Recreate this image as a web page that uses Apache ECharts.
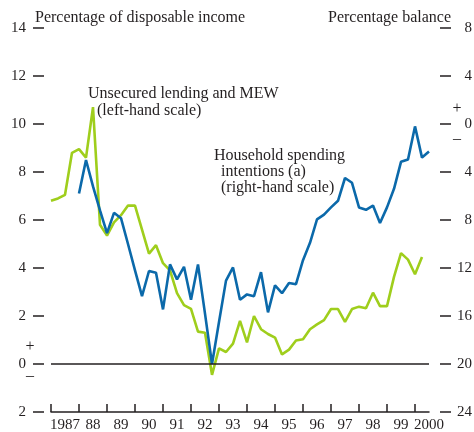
<!DOCTYPE html>
<html>
<head>
<meta charset="utf-8">
<script src="https://cdn.jsdelivr.net/npm/echarts@6/dist/echarts.min.js"></script>
<style>
html,body{margin:0;padding:0;background:#fff;}
#chart{width:474px;height:432px;}
</style>
</head>
<body>
<div id="chart"></div>
<script>
// ---- data (quarterly) ----
const lendingStart = 1987;   // first quarter of unsecured lending & MEW series
const intentionsStart = 1988; // first quarter of spending intentions series
// Unsecured lending and MEW, % of disposable income (left-hand scale), 1987Q1-2000Q2
const lendingMEW = [6.8, 6.9, 7.05, 8.8, 8.95, 8.6, 10.7, 5.8, 5.35, 5.9, 6.2, 6.6, 6.6, 5.6,
  4.6, 4.95, 4.2, 3.9, 2.95, 2.45, 2.3, 1.35, 1.3, -0.45, 0.65, 0.5, 0.85, 1.8, 0.9, 2.0,
  1.45, 1.25, 1.1, 0.4, 0.6, 0.98, 1.03, 1.45, 1.65, 1.83, 2.29, 2.29, 1.76, 2.29, 2.39,
  2.32, 2.97, 2.41, 2.41, 3.63, 4.62, 4.35, 3.74, 4.46];
// Household spending intentions, percentage balance (right-hand scale), 1988Q1-2000Q3
const spendingIntentions = [-5.8, -3.0, -5.2, -7.2, -9.1, -7.4, -7.85, -10.0, -12.2, -14.35,
  -12.25, -12.4, -15.45, -11.7, -12.95, -11.9, -14.65, -11.7, -15.8, -20.0, -16.5, -13.05,
  -11.95, -14.65, -14.2, -14.35, -12.35, -15.7, -13.45, -14.1, -13.25, -13.35, -11.35, -9.9,
  -7.95, -7.55, -6.95, -6.4, -4.5, -4.9, -6.95, -7.15, -6.8, -8.25, -6.95, -5.4, -3.15,
  -2.95, -0.2, -2.8, -2.3];
// x-axis
const yearTicks = [1987, 1988, 1989, 1990, 1991, 1992, 1993, 1994, 1995, 1996, 1997, 1998, 1999, 2000];
const yearLabels = ['1987', '88', '89', '90', '91', '92', '93', '94', '95', '96', '97', '98', '99', '2000'];
// y-axes
const leftMin = -2, leftMax = 14, leftStep = 2;
const rightMin = -24, rightMax = 8, rightStep = 4;
const leftTitle = 'Percentage of disposable income';
const rightTitle = 'Percentage balance';
const lendingName = ['Unsecured lending and MEW', '(left-hand scale)'];
const intentionsName = ['Household spending', 'intentions (a)', '(right-hand scale)'];

// ---- chart ----
const FONT = '"Liberation Serif", "DejaVu Serif", serif';
const INK = '#231f20';
const GREEN = '#9fce1c';
const BLUE = '#0b69aa';

const lendingData = lendingMEW.map((v, i) => [lendingStart + i / 4, v]);
const intentionsData = spendingIntentions.map((v, i) => [intentionsStart + i / 4, v]);
const labelPos = yearTicks.map(y => y + 0.5);

const chart = echarts.init(document.getElementById('chart'), null, {renderer: 'canvas'});
const labelStyle = {fontFamily: FONT, fontSize: 15, color: INK};

chart.setOption({
  animation: false,
  backgroundColor: '#fff',
  grid: {left: 51, right: 45, top: 28, bottom: 20, containLabel: false, outerBoundsMode: 'none'},
  xAxis: {
    type: 'value', min: 1987, max: 2000.5, interval: 1,
    splitLine: {show: false},
    axisLine: {show: true, onZero: false, lineStyle: {color: INK, width: 1.5}},
    axisTick: {show: true, inside: true, length: 8, customValues: yearTicks, lineStyle: {color: INK, width: 1.5}},
    axisLabel: Object.assign({customValues: labelPos, margin: 6,
      formatter: v => yearLabels[yearTicks.indexOf(Math.floor(v))] || ''}, labelStyle)
  },
  yAxis: [
    {
      type: 'value', min: leftMin, max: leftMax, interval: leftStep, position: 'left', offset: 7,
      splitLine: {show: false},
      axisLine: {show: false},
      axisTick: {show: true, length: 11, lineStyle: {color: INK, width: 1.5}},
      axisLabel: Object.assign({margin: 18, formatter: v => String(Math.abs(v))}, labelStyle)
    },
    {
      type: 'value', min: rightMin, max: rightMax, interval: rightStep, position: 'right', offset: 11,
      splitLine: {show: false},
      axisLine: {show: false},
      axisTick: {show: true, length: 11, lineStyle: {color: INK, width: 1.5}},
      axisLabel: Object.assign({margin: 32, align: 'right', formatter: v => String(Math.abs(v))}, labelStyle)
    }
  ],
  series: [
    {
      name: lendingName.join(' '), type: 'line', yAxisIndex: 0, data: lendingData,
      symbol: 'none', lineStyle: {color: GREEN, width: 2.6}, z: 2,
      markLine: {silent: true, symbol: 'none', label: {show: false},
        lineStyle: {color: INK, width: 1.5, type: 'solid'}, data: [{yAxis: 0}]}
    },
    {
      name: intentionsName.join(' '), type: 'line', yAxisIndex: 1, data: intentionsData,
      symbol: 'none', lineStyle: {color: BLUE, width: 2.6}, z: 3
    }
  ]
});

// ---- text annotations ----
const y0L = chart.convertToPixel({yAxisIndex: 0}, 0);
const y0R = chart.convertToPixel({yAxisIndex: 1}, 0);
function txt(x, y, s, align, size) {
  return {type: 'text', x: x, y: y, silent: true,
    style: {text: s, fill: INK, font: (size || 16) + 'px ' + FONT, align: align || 'left', verticalAlign: 'middle'}};
}
chart.setOption({
  graphic: [
    txt(35, 17.5, leftTitle),
    txt(328, 17.5, rightTitle),
    txt(88, 94, lendingName[0]),
    txt(97, 110.5, lendingName[1]),
    txt(214, 156, intentionsName[0]),
    txt(221, 172, intentionsName[1]),
    txt(221, 187.5, intentionsName[2]),
    txt(30, y0L - 17, '+', 'center', 16),
    txt(30, y0L + 12, '\u2013', 'center', 16),
    txt(457, y0R - 15, '+', 'center', 16),
    txt(457, y0R + 15, '\u2013', 'center', 16)
  ]
});
</script>
</body>
</html>
